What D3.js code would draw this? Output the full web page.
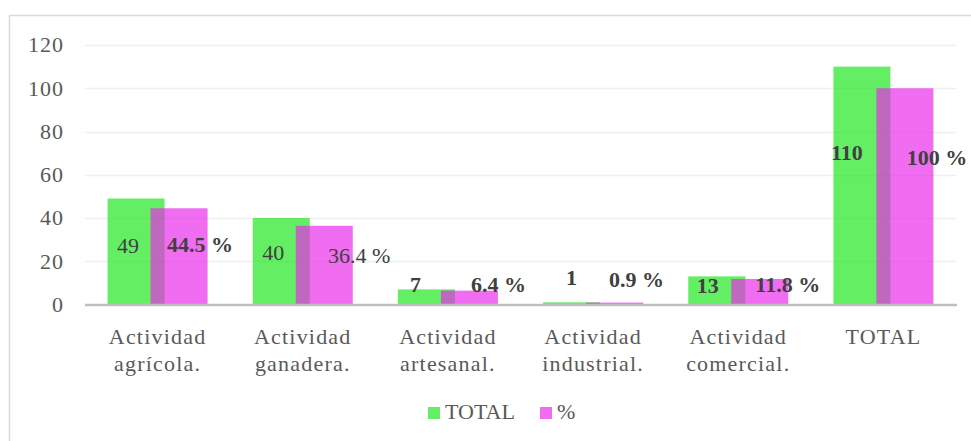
<!DOCTYPE html>
<html>
<head>
<meta charset="utf-8">
<script src="https://cdn.jsdelivr.net/npm/d3@7"></script>
</head>
<body style="margin:0">
<svg id="chart" width="971" height="441"></svg>
<script>
const categories = [["Actividad", "agrícola."], ["Actividad", "ganadera."], ["Actividad", "artesanal."], ["Actividad", "industrial."], ["Actividad", "comercial."], ["TOTAL"]];
const totalValues = [49, 40, 7, 1, 13, 110];
const pctValues = [44.5, 36.4, 6.4, 0.9, 11.8, 100];
const totalLabels = ["49", "40", "7", "1", "13", "110"];
const pctLabels = ["44.5 %", "36.4 %", "6.4 %", "0.9 %", "11.8 %", "100 %"];
const totalLabelBold = [false, false, true, true, true, true];
const pctLabelBold = [true, false, true, true, true, true];
const yTicks = [0, 20, 40, 60, 80, 100, 120];
const seriesNames = ["TOTAL", "%"];
// manual label nudges (px) relative to bar center / bar mid-height
const totalNudge = [[-8, -6], [-8, -9], [-11, -12], [0, -26], [-9, -5], [-15, -33]];
const pctNudge = [[21, -12], [35, -10], [29, -13], [22, -24], [28, -7], [32, -39]];

const FONT = '"Tinos", serif';
const svg = d3.select("#chart");
const W = 971, H = 441;
const plotL = 85, plotR = 956, plotT = 45, plotB = 304.5;

const textColor = "#595959";
const green = "rgb(30,230,30)";
const magenta = "rgb(233,42,233)";
const barOpacity = 0.69;

svg.append("line").attr("x1", 9.5).attr("x2", W).attr("y1", 15.5).attr("y2", 15.5)
  .attr("stroke", "#d9d9d9").attr("stroke-width", 1.5);
svg.append("line").attr("x1", 9.5).attr("x2", 9.5).attr("y1", 15.5).attr("y2", H)
  .attr("stroke", "#d9d9d9").attr("stroke-width", 1.5);

const x0 = d3.scaleBand().domain(d3.range(categories.length)).range([plotL, plotR]).paddingInner(0).paddingOuter(0);
const y = d3.scaleLinear().domain([0, 120]).range([plotB, plotT]);

const barW = 57;
const barShift = 21.5;
const cx = i => x0(i) + x0.bandwidth() / 2;

svg.append("g").selectAll("line").data(yTicks.filter(t => t > 0)).join("line")
  .attr("x1", plotL).attr("x2", plotR)
  .attr("y1", d => Math.round(y(d)) + 0.5).attr("y2", d => Math.round(y(d)) + 0.5)
  .attr("stroke", "#efefef").attr("stroke-width", 1.5);

// y axis labels (drawn from the scale's ticks)
svg.append("g").selectAll("text").data(yTicks).join("text")
  .attr("x", 64).attr("y", d => y(d)).attr("dy", "0.33em").attr("text-anchor", "end")
  .attr("font-size", 22).attr("letter-spacing", "1px").attr("fill", textColor)
  .style("font-family", FONT).text(d => y.tickFormat()(d));

svg.append("g").selectAll("rect").data(totalValues).join("rect")
  .attr("x", (d, i) => cx(i) - barShift - barW / 2)
  .attr("y", d => y(d))
  .attr("width", barW)
  .attr("height", d => y(0) - y(d))
  .attr("fill", green).attr("fill-opacity", barOpacity);

svg.append("g").selectAll("rect").data(pctValues).join("rect")
  .attr("x", (d, i) => cx(i) + barShift - barW / 2)
  .attr("y", d => y(d))
  .attr("width", barW)
  .attr("height", d => y(0) - y(d))
  .attr("fill", magenta).attr("fill-opacity", barOpacity);

svg.append("line").attr("x1", plotL).attr("x2", plotR + 1).attr("y1", plotB + 0.5).attr("y2", plotB + 0.5)
  .attr("stroke", "#bfbfbf").attr("stroke-width", 2.5);

// category labels
const cat = svg.append("g").selectAll("text").data(categories).join("text")
  .attr("text-anchor", "middle").attr("font-size", 22).attr("letter-spacing", "1.2px")
  .attr("fill", textColor).style("font-family", FONT);
cat.each(function (lines, i) {
  lines.forEach((line, k) => {
    d3.select(this).append("tspan").attr("x", cx(i)).attr("y", plotB + 39 + k * 27).text(line);
  });
});

// data labels
svg.append("g").selectAll("text").data(totalValues).join("text")
  .attr("text-anchor", "middle").attr("font-size", 22).attr("fill", "#404040").style("font-family", FONT)
  .attr("x", (d, i) => cx(i) - barShift + totalNudge[i][0])
  .attr("y", d => y(d / 2))
  .attr("dy", (d, i) => totalNudge[i][1] + 7.5)
  .attr("font-weight", (d, i) => totalLabelBold[i] ? "bold" : "normal")
  .text((d, i) => totalLabels[i]);
svg.append("g").selectAll("text").data(pctValues).join("text")
  .attr("text-anchor", "middle").attr("font-size", 22).attr("fill", "#404040").style("font-family", FONT)
  .attr("x", (d, i) => cx(i) + barShift + pctNudge[i][0])
  .attr("y", d => y(d / 2))
  .attr("dy", (d, i) => pctNudge[i][1] + 7.5)
  .attr("font-weight", (d, i) => pctLabelBold[i] ? "bold" : "normal")
  .text((d, i) => pctLabels[i]);

// legend
const legendColors = [green, magenta];
const legendX = [428, 540];
seriesNames.forEach((name, i) => {
  svg.append("rect").attr("x", legendX[i]).attr("y", 407).attr("width", 12).attr("height", 12)
    .attr("fill", legendColors[i]).attr("fill-opacity", barOpacity);
  svg.append("text").attr("x", legendX[i] + 17).attr("y", 419).attr("font-size", 22)
    .attr("fill", textColor).style("font-family", FONT).text(name);
});
</script>
</body>
</html>
